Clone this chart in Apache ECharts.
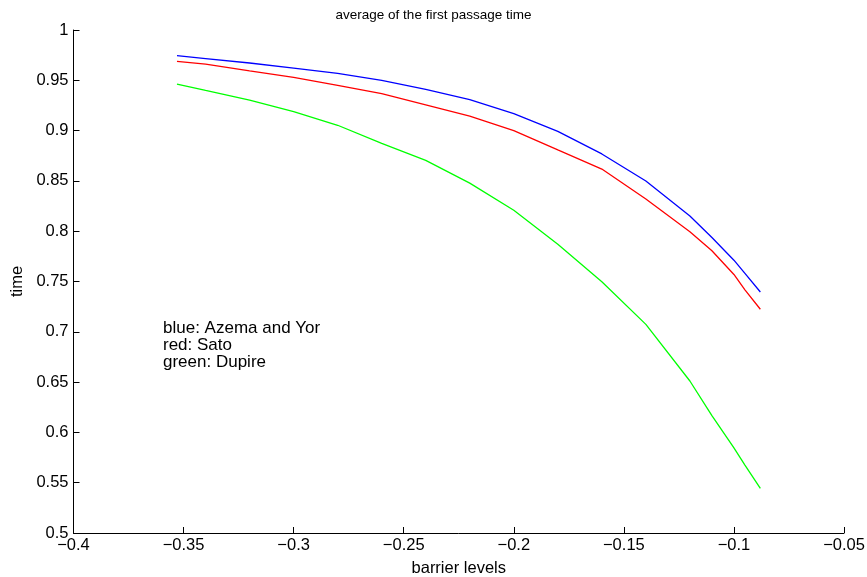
<!DOCTYPE html>
<html>
<head>
<meta charset="utf-8">
<script src="https://cdn.jsdelivr.net/npm/echarts@6/dist/echarts.min.js"></script>
<style>
  html, body { margin: 0; padding: 0; background: #fff; }
  #chart { width: 867px; height: 577px; }
</style>
</head>
<body>
<div id="chart"></div>
<script>
// Barrier levels at which the mean first passage time was estimated
const barrierLevels = [-0.353, -0.34, -0.32, -0.30, -0.28, -0.26, -0.24, -0.22, -0.20,
                       -0.18, -0.16, -0.14, -0.12, -0.11, -0.10, -0.095, -0.088];

// Mean first passage time per method
const azemaYor = [0.9745, 0.9716, 0.9672, 0.9622, 0.9568, 0.9499, 0.9409, 0.9309, 0.9169,
                  0.8993, 0.8768, 0.8499, 0.8151, 0.7937, 0.7712, 0.7581, 0.7396];
const sato     = [0.9689, 0.9660, 0.9594, 0.9530, 0.9450, 0.9367, 0.9255, 0.9145, 0.9000,
                  0.8808, 0.8618, 0.8320, 0.7994, 0.7806, 0.7570, 0.7417, 0.7224];
const dupire   = [0.9463, 0.9399, 0.9304, 0.9189, 0.9053, 0.8874, 0.8704, 0.8478, 0.8208,
                  0.7871, 0.7497, 0.7074, 0.6511, 0.6167, 0.5846, 0.5675, 0.5444];

const legendLines = ['blue: Azema and Yor', 'red: Sato', 'green: Dupire'];

const FONT = '"Liberation Sans", Arial, Helvetica, sans-serif';

function pairs(ys) {
  return barrierLevels.map((x, i) => [x, ys[i]]);
}
function fmt(v) {
  const s = String(parseFloat(v.toFixed(2)));
  return s.replace('-', '\u2212');
}
function lineSeries(name, ys, color) {
  return {
    name: name,
    type: 'line',
    data: pairs(ys),
    showSymbol: false,
    symbol: 'none',
    lineStyle: { color: color, width: 1.3 },
    animation: false
  };
}

const chart = echarts.init(document.getElementById('chart'), null, { renderer: 'canvas' });
chart.setOption({
  backgroundColor: '#ffffff',
  animation: false,
  title: {
    text: 'average of the first passage time',
    left: 'center',
    top: 3,
    textStyle: { fontFamily: FONT, fontSize: 13.5, fontWeight: 'normal', color: '#000' }
  },
  grid: {
    left: 73.5, right: 23, top: 30, bottom: 44,
    containLabel: false,
    outerBoundsMode: 'none'
  },
  xAxis: {
    type: 'value',
    min: -0.4,
    max: -0.05,
    interval: 0.05,
    name: 'barrier levels',
    nameLocation: 'middle',
    nameGap: 27,
    nameTextStyle: { fontFamily: FONT, fontSize: 16.5, color: '#000' },
    axisLine: { show: true, lineStyle: { color: '#000', width: 1 } },
    axisTick: { show: true, inside: true, length: 6, lineStyle: { color: '#000' } },
    axisLabel: { fontFamily: FONT, fontSize: 16.5, color: '#000', margin: 4, formatter: fmt },
    splitLine: { show: false }
  },
  yAxis: {
    type: 'value',
    min: 0.5,
    max: 1,
    interval: 0.05,
    name: 'time',
    nameLocation: 'middle',
    nameGap: 47,
    nameRotate: 90,
    nameTextStyle: { fontFamily: FONT, fontSize: 16.5, color: '#000' },
    axisLine: { show: true, lineStyle: { color: '#000', width: 1 } },
    axisTick: { show: true, inside: true, length: 6, lineStyle: { color: '#000' } },
    axisLabel: { fontFamily: FONT, fontSize: 16.5, color: '#000', margin: 5, formatter: fmt },
    splitLine: { show: false }
  },
  graphic: legendLines.map((t, i) => ({
    type: 'text',
    left: 163,
    top: 320 + i * 17,
    style: { text: t, fontFamily: FONT, fontSize: 17, fill: '#000' }
  })),
  series: [
    lineSeries('Azema and Yor', azemaYor, '#0000ff'),
    lineSeries('Sato', sato, '#ff0000'),
    lineSeries('Dupire', dupire, '#00ff00')
  ]
});
</script>
</body>
</html>
